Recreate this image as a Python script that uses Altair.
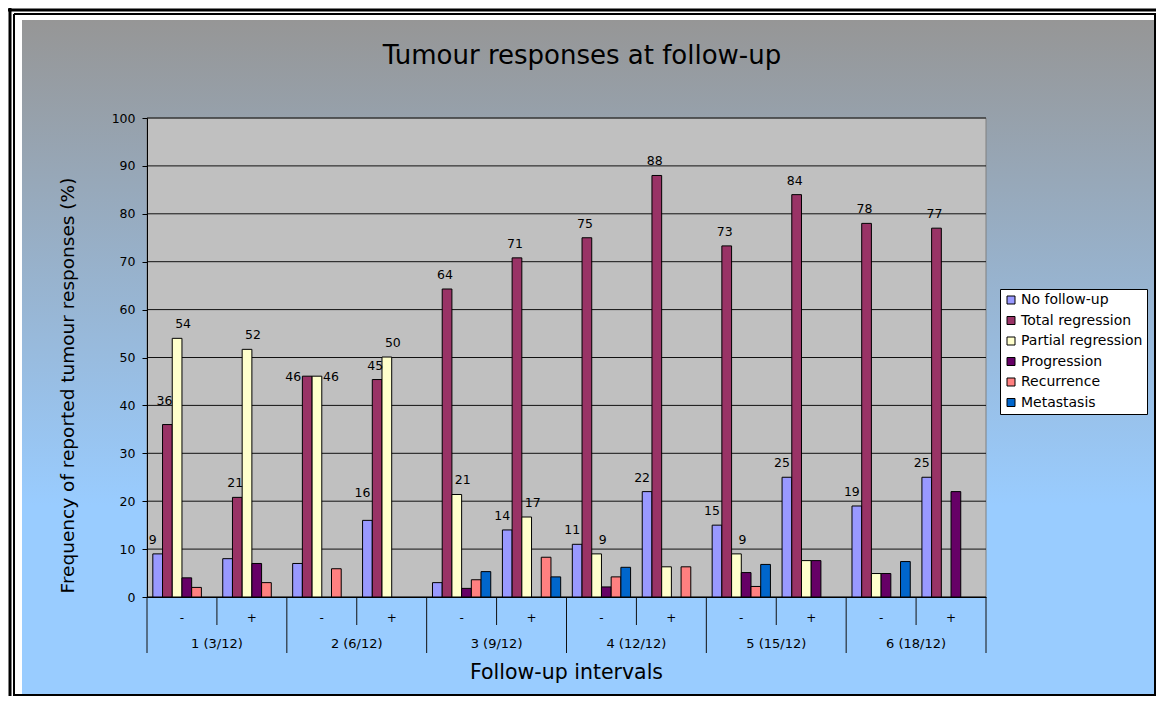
import altair as alt
import pandas as pd

FONT = "DejaVu Sans"

# ---------------- data ----------------
intervals = ["1 (3/12)", "2 (6/12)", "3 (9/12)", "4 (12/12)", "5 (15/12)", "6 (18/12)"]
signs = ["-", "+"]
series = ["No follow-up", "Total regression", "Partial regression",
          "Progression", "Recurrence", "Metastasis"]
colors = ["#9999FF", "#993366", "#FFFFCC", "#660066", "#FF8080", "#0066CC"]

# values per slot: 1-, 1+, 2-, 2+, 3-, 3+, 4-, 4+, 5-, 5+, 6-, 6+
no_follow_up = [9, 8, 7, 16, 3, 14, 11, 22, 15, 25, 19, 25]
total_regression = [36, 20.8, 46.1, 45.4, 64.3, 70.8, 75, 88, 73.3, 84, 78, 77]
partial_regression = [54, 51.7, 46.1, 50.1, 21.4, 16.7, 9, 6.3, 9, 7.6, 4.9, 0]
progression = [4, 7, 0, 0, 1.8, 0, 2.1, 0, 5.1, 7.6, 4.9, 22]
recurrence = [2, 3, 5.9, 0, 3.6, 8.3, 4.2, 6.3, 2.2, 0, 0, 0]
metastasis = [0, 0, 0, 0, 5.3, 4.2, 6.2, 0, 6.8, 0, 7.4, 0]

# data labels shown in the original (None = no label)
no_follow_up_labels = [9, None, None, 16, None, 14, 11, 22, 15, 25, 19, 25]
total_regression_labels = [36, 21, 46, 45, 64, 71, 75, 88, 73, 84, 78, 77]
partial_regression_labels = [54, 52, 46, 50, 21, 17, 9, None, 9, None, None, None]

y_ticks = [0, 10, 20, 30, 40, 50, 60, 70, 80, 90, 100]

title_text = "Tumour responses at follow-up"
x_title = "Follow-up intervals"
y_title = "Frequency of reported tumour responses (%)"

# ---------------- tables ----------------
slots = [f"{iv}|{sg}" for iv in intervals for sg in signs]
values = {
    "No follow-up": no_follow_up,
    "Total regression": total_regression,
    "Partial regression": partial_regression,
    "Progression": progression,
    "Recurrence": recurrence,
    "Metastasis": metastasis,
}
labels = {
    "No follow-up": no_follow_up_labels,
    "Total regression": total_regression_labels,
    "Partial regression": partial_regression_labels,
}
rows = []
for i, slot in enumerate(slots):
    for s in series:
        rows.append({
            "slot": slot, "series": s, "value": values[s][i],
            "label": labels[s][i] if s in labels else None,
        })
df = pd.DataFrame(rows)
bars_df = df[df["value"] > 0]
lab_df = df[df["label"].notna()]

slot_df = pd.DataFrame({"slot": slots, "sign": [s.split("|")[1] for s in slots]})
group_df = pd.DataFrame({"interval": intervals, "slot_minus": [f"{iv}|-" for iv in intervals]})
tick_df = pd.DataFrame({"value": y_ticks})
one = pd.DataFrame({"k": [0]})

W, H = 839, 479

x_scale = alt.Scale(domain=slots, paddingInner=0, paddingOuter=0)
xo_scale = alt.Scale(domain=series, paddingInner=0, paddingOuter=0.6)
y_scale = alt.Scale(domain=[0, 100], nice=False)

x_axis = alt.Axis(labels=False, ticks=False, title=None, grid=False,
                  domainColor="black", zindex=1)
y_axis = alt.Axis(values=y_ticks, grid=False, domainColor="black",
                  tickColor="black", tickSize=5, labelPadding=7,
                  labelFont=FONT, labelFontSize=12.5, labelColor="black",
                  title=y_title, titleFont=FONT, titleFontSize=18.5,
                  titleFontWeight="normal", titleColor="black",
                  titleX=-70, titleY=267, zindex=1)

def X(field, **kw):
    return alt.X(field, scale=x_scale, sort=slots, axis=x_axis, title=None, **kw)

def Y(field):
    return alt.Y(field, scale=y_scale, axis=y_axis, title=y_title)

# ---------------- decoration ----------------
gradient = alt.LinearGradient(
    gradient="linear",
    stops=[alt.GradientStop(color="#969696", offset=0),
           alt.GradientStop(color="#99CCFF", offset=0.72),
           alt.GradientStop(color="#99CCFF", offset=1)],
    x1=0, x2=0, y1=0, y2=1,
)
bg = alt.Chart(one).mark_rect(fill=gradient).encode(
    x=alt.value(-125), x2=alt.value(1007), y=alt.value(-98), y2=alt.value(576))

def vline(x, y1, y2, w):
    return alt.Chart(one).mark_rule(color="black", strokeWidth=w).encode(
        x=alt.value(x), y=alt.value(y1), y2=alt.value(y2))

def hline(y, x1, x2, w):
    return alt.Chart(one).mark_rule(color="black", strokeWidth=w).encode(
        y=alt.value(y), x=alt.value(x1), x2=alt.value(x2))

frame = [
    vline(-137, -110, 578, 3), vline(-133, -104, 578, 2),
    hline(-108, -139, 1009, 3), hline(-104, -133, 1009, 2),
    vline(1008, -104, 578, 2), hline(577, -133, 1009, 2),
]

plot_bg = alt.Chart(one).mark_rect(fill="#C0C0C0", stroke="#808080", strokeWidth=1).encode(
    x=alt.value(0), x2=alt.value(W), y=alt.value(0), y2=alt.value(H))

grid = alt.Chart(tick_df).mark_rule(color="#111111", strokeWidth=1).encode(
    y=Y("value:Q"), x=alt.value(0), x2=alt.value(W))

# ---------------- bars ----------------
bars = alt.Chart(bars_df).mark_bar(stroke="black", strokeWidth=1).encode(
    x=X("slot:N"),
    xOffset=alt.XOffset("series:N", scale=xo_scale, sort=series),
    y=Y("value:Q"),
    color=alt.Color("series:N", scale=alt.Scale(domain=series, range=colors),
                    sort=series,
                    legend=alt.Legend(title=None, orient="none", legendX=853, legendY=171,
                                      fillColor="white", strokeColor="black", padding=4,
                                      symbolType="square", symbolSize=64,
                                      symbolStrokeColor="black", symbolStrokeWidth=1,
                                      labelFont=FONT, labelFontSize=14, labelColor="black",
                                      rowPadding=6.5, labelOffset=3)),
)

def label_layer(cond, dx, dy):
    return alt.Chart(lab_df).transform_filter(cond).mark_text(
        font=FONT, fontSize=12.5, color="black", baseline="alphabetic",
        dx=dx, dy=dy).encode(
        x=X("slot:N"),
        xOffset=alt.XOffset("series:N", scale=xo_scale, sort=series),
        y=Y("value:Q"),
        text=alt.Text("label:Q", format=".0f"))

# a few labels were nudged by the original to avoid overlaps
sp_2m = "2 (6/12)|-"
sp_2p = "2 (6/12)|+"
sp_1m = "1 (3/12)|-"
nf = "datum.series == 'No follow-up'"
tr = "datum.series == 'Total regression'"
pr = "datum.series == 'Partial regression'"
label_layers = [
    label_layer(f"{nf} && datum.slot != '{sp_2p}'", -5, -10),
    label_layer(f"{nf} && datum.slot == '{sp_2p}'", -5, -23),
    label_layer(f"{tr} && datum.slot != '{sp_2m}' && datum.slot != '{sp_1m}'", -2, -10),
    label_layer(f"{tr} && datum.slot == '{sp_1m}'", -3, -20),
    label_layer(f"{tr} && datum.slot == '{sp_2m}'", -14, 5),
    label_layer(f"{pr} && datum.slot != '{sp_2m}'", 6, -10),
    label_layer(f"{pr} && datum.slot == '{sp_2m}'", 14, 5),
]

# ---------------- category axis table ----------------
inner = alt.Chart(slot_df).mark_text(font=FONT, fontSize=12, color="black",
                                     baseline="alphabetic").encode(
    x=X("slot:N"), y=alt.value(H + 24.5), text="sign:N")

outer = alt.Chart(group_df).mark_text(font=FONT, fontSize=13, color="black",
                                      baseline="alphabetic").encode(
    x=X("slot_minus:N", bandPosition=1), y=alt.value(H + 51), text="interval:N")

short_sep = alt.Chart(slot_df).transform_filter("datum.sign == '+'").mark_rule(
    color="#111111", strokeWidth=1).encode(
    x=X("slot:N", bandPosition=0), y=alt.value(H), y2=alt.value(H + 28))
long_sep = alt.Chart(slot_df).transform_filter("datum.sign == '-'").mark_rule(
    color="#111111", strokeWidth=1).encode(
    x=X("slot:N", bandPosition=0), y=alt.value(H), y2=alt.value(H + 56))
end_sep = alt.Chart(slot_df).transform_filter(f"datum.slot == '{slots[-1]}'").mark_rule(
    color="#111111", strokeWidth=1).encode(
    x=X("slot:N", bandPosition=1), y=alt.value(H), y2=alt.value(H + 56))

# ---------------- titles ----------------
title = alt.Chart(one).mark_text(text=title_text, font=FONT, fontSize=26, color="black",
                                 baseline="alphabetic", align="center").encode(
    x=alt.value(435), y=alt.value(-54))
xtitle = alt.Chart(one).mark_text(text=x_title, font=FONT, fontSize=20.5, color="black",
                                  baseline="alphabetic", align="center").encode(
    x=alt.value(W / 2), y=alt.value(H + 82))

chart = alt.layer(
    bg, *frame, plot_bg, grid, bars, *label_layers,
    inner, outer, short_sep, long_sep, end_sep, title, xtitle,
).properties(
    width=W, height=H,
    autosize=alt.AutoSizeParams(type="none"),
    padding={"left": 139, "top": 110, "right": 170, "bottom": 99},
).configure_view(stroke=None).configure(font=FONT, background="white")

chart.save("out.html", embed_options={"renderer": "svg", "actions": False})
